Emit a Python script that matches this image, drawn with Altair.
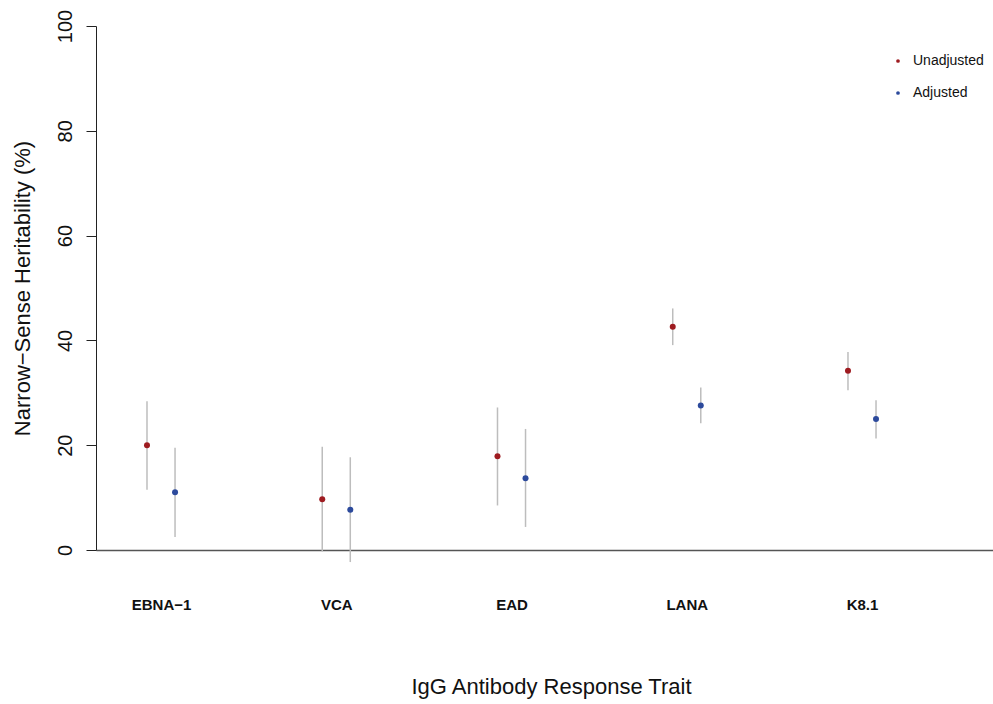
import json
import altair as alt
import pandas as pd

# ---- data ----
categories = ["EBNA\u22121", "VCA", "EAD", "LANA", "K8.1"]
series_names = ["Unadjusted", "Adjusted"]

unadj_est = [20.0, 9.7, 17.9, 42.6, 34.2]
unadj_lo = [11.5, -0.3, 8.5, 39.1, 30.5]
unadj_hi = [28.4, 19.7, 27.2, 46.1, 37.8]

adj_est = [11.0, 7.7, 13.7, 27.6, 25.0]
adj_lo = [2.5, -2.3, 4.4, 24.2, 21.3]
adj_hi = [19.5, 17.7, 23.1, 31.0, 28.6]

y_ticks = [0, 20, 40, 60, 80, 100]
colors = ["#9E1B20", "#2C4A9C"]

rows = []
for i, cat in enumerate(categories):
    rows.append(dict(cat=cat, idx=i + 1, series="Unadjusted",
                     est=unadj_est[i], lo=unadj_lo[i], hi=unadj_hi[i]))
    rows.append(dict(cat=cat, idx=i + 1, series="Adjusted",
                     est=adj_est[i], lo=adj_lo[i], hi=adj_hi[i]))
df = pd.DataFrame(rows)

FONT = "Liberation Sans"
label_expr = json.dumps(categories) + "[datum.value - 1]"

base = alt.Chart(df).transform_calculate(
    pos="datum.idx + (datum.series == 'Unadjusted' ? -0.08 : 0.08)"
)

x_enc = alt.X(
    "pos:Q",
    scale=alt.Scale(domain=[0.629, 5.7475], nice=False, zero=False),
    axis=alt.Axis(
        values=[1, 2, 3, 4, 5],
        labelExpr=label_expr,
        ticks=False,
        tickSize=0,
        grid=False,
        domainColor="#555555",
        domainWidth=1.5,
        labelFont=FONT,
        labelFontSize=15,
        labelFontWeight="bold",
        labelColor="#111111",
        labelBaseline="middle",
        labelPadding=54,
        labelFlush=False,
        labelOverlap=False,
        title="IgG Antibody Response Trait",
        titleFont=FONT,
        titleFontSize=22,
        titleFontWeight="normal",
        titleColor="#111111",
        titleX=455,
        titleY=136,
        titleAlign="center",
        titleBaseline="middle",
    ),
)

y_scale = alt.Scale(domain=[0, 100], nice=False, zero=False)
y_axis = alt.Axis(
    values=y_ticks,
    grid=False,
    tickSize=10,
    tickColor="#222222",
    domainColor="#222222",
    labelFont=FONT,
    labelFontSize=20,
    labelColor="#111111",
    labelAngle=270,
    labelAlign="center",
    labelBaseline="alphabetic",
    labelPadding=15,
    labelFlush=False,
    labelOverlap=False,
    title="Narrow\u2212Sense Heritability (%)",
    titleFont=FONT,
    titleFontSize=22,
    titleFontWeight="normal",
    titleColor="#111111",
    titleAngle=270,
    titleX=-74,
    titleY=262,
    titleAlign="center",
    titleBaseline="middle",
)

rules = base.mark_rule(color="#BDBDBD", strokeWidth=1.5).encode(
    x=x_enc,
    y=alt.Y("lo:Q", scale=y_scale, axis=y_axis),
    y2="hi:Q",
)

points = base.mark_point(filled=True, size=36, opacity=1).encode(
    x=x_enc,
    y=alt.Y("est:Q", scale=y_scale, axis=y_axis),
    color=alt.Color(
        "series:N",
        scale=alt.Scale(domain=series_names, range=colors),
        legend=alt.Legend(
            title=None,
            orient="none",
            legendX=795,
            legendY=28,
            symbolType="circle",
            symbolSize=14,
            labelFont=FONT,
            labelFontSize=14,
            labelColor="#111111",
            labelOffset=8,
            rowPadding=18,
            padding=0,
        ),
    ),
)

chart = alt.layer(rules, points).properties(
    width=897,
    height=524,
    padding={"left": 96, "top": 26, "right": 0, "bottom": 154},
    autosize=alt.AutoSizeParams(type="none"),
    background="white",
).configure_view(stroke=None)

chart.save("out.html", embed_options={"renderer": "svg", "actions": False})
